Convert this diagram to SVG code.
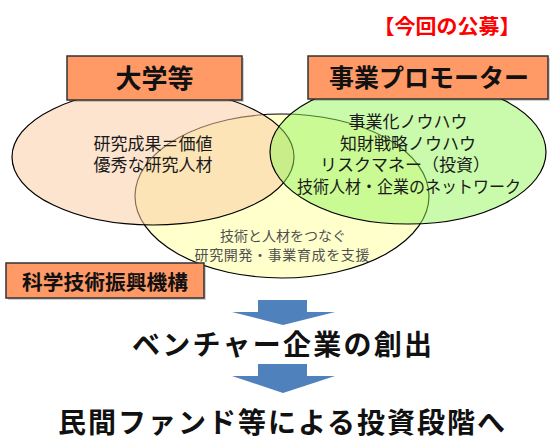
<svg xmlns="http://www.w3.org/2000/svg" width="558" height="447" viewBox="0 0 558 447">
<style>
  .jp { font-family: "Noto Sans CJK JP", "Noto Sans", sans-serif; }
  .ell-text { font-size: 17px; fill: #1a1a1a; text-anchor: middle; }
  .sub-text { font-size: 14px; fill: #505050; text-anchor: middle; }
  .box { fill: #FF9966; stroke: #333333; stroke-width: 1.5; }
  .shadow { fill: #000000; opacity: 0.18; }
  .box-text { fill: #111111; text-anchor: middle; font-weight: bold; }
  .big { font-size: 28px; font-weight: bold; fill: #111111; text-anchor: middle; }
  .arrow { fill: #4F81BD; }
</style>
<rect width="558" height="447" fill="#ffffff"/>

<g id="node-support">
  <ellipse cx="282" cy="196" rx="147" ry="82" fill="#FFFFCC" stroke="#000000" stroke-width="1.2"/>
  <text class="jp sub-text" x="283" y="241">技術と人材をつなぐ</text>
  <text class="jp sub-text" x="282" y="260" textLength="175" lengthAdjust="spacing">研究開発・事業育成を支援</text>
</g>

<g id="node-university">
  <ellipse cx="153" cy="157" rx="141" ry="68" fill="rgb(250,205,165)" fill-opacity="0.55" stroke="#000000" stroke-width="1.2"/>
  <text class="jp ell-text" x="153" y="149.5">研究成果＝価値</text>
  <text class="jp ell-text" x="153" y="171">優秀な研究人材</text>
</g>

<g id="node-promoter">
  <ellipse cx="408" cy="152" rx="138" ry="72" fill="rgb(150,245,90)" fill-opacity="0.5" stroke="#000000" stroke-width="1.2"/>
  <text class="jp ell-text" x="408" y="128">事業化ノウハウ</text>
  <text class="jp ell-text" x="408" y="149.5">知財戦略ノウハウ</text>
  <text class="jp ell-text" x="405" y="171">リスクマネー（投資）</text>
  <text class="jp ell-text" x="409" y="192.5" textLength="224" lengthAdjust="spacingAndGlyphs">技術人材・企業のネットワーク</text>
</g>

<g id="label-university">
  <rect class="shadow" x="69" y="58" width="175" height="44"/>
  <rect class="box" x="67" y="56" width="175" height="44"/>
  <text class="jp box-text" x="154.5" y="88" font-size="26">大学等</text>
</g>

<g id="label-promoter">
  <rect class="shadow" x="310" y="58" width="240" height="43"/>
  <rect class="box" x="308" y="56" width="240" height="43"/>
  <text class="jp box-text" x="429" y="87" font-size="25" font-weight="normal" textLength="200" lengthAdjust="spacingAndGlyphs">事業プロモーター</text>
</g>

<g id="label-jst">
  <rect class="shadow" x="8" y="265" width="198" height="35"/>
  <rect class="box" x="6" y="263" width="198" height="35"/>
  <text class="jp box-text" x="105" y="290" font-size="20.5" textLength="166" lengthAdjust="spacingAndGlyphs">科学技術振興機構</text>
</g>

<g id="title">
  <text class="jp" x="447" y="34" font-size="20" font-weight="bold" fill="#FF0000" text-anchor="middle" textLength="147" lengthAdjust="spacingAndGlyphs">【今回の公募】</text>
</g>

<g id="connectors">
  <polygon class="arrow" points="258,300 307,300 307,312 335,312 283,325 232,312 258,312"/>
  <polygon class="arrow" points="258,364 307,364 307,376 335,376 283,393 232,376 258,376"/>
</g>

<g id="node-venture">
  <text class="jp big" x="282" y="355" textLength="300" lengthAdjust="spacing">ベンチャー企業の創出</text>
</g>

<g id="node-investment">
  <text class="jp big" x="281.5" y="433" textLength="447" lengthAdjust="spacing">民間ファンド等による投資段階へ</text>
</g>
</svg>
